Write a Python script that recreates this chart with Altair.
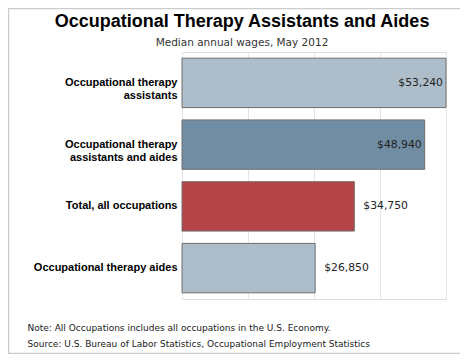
import altair as alt
import pandas as pd

occupations = [
    "Occupational therapy\nassistants",
    "Occupational therapy\nassistants and aides",
    "Total, all occupations",
    "Occupational therapy aides",
]
wages = [53240, 48940, 34750, 26850]
wage_labels = ["$53,240", "$48,940", "$34,750", "$26,850"]
axis_ticks = [0, 13310, 26620, 39930, 53240]

title_text = "Occupational Therapy Assistants and Aides"
subtitle_text = "Median annual wages, May 2012"
footnotes = [
    "Note: All Occupations includes all occupations in the U.S. Economy.",
    "Source: U.S. Bureau of Labor Statistics, Occupational Employment Statistics",
]

bar_colors = ["#adbdc9", "#718da3", "#b54446", "#adbdc9"]

df = pd.DataFrame({"occupation": occupations, "wage": wages, "label": wage_labels})

y_enc = alt.Y(
    "occupation:N",
    sort=occupations,
    scale=alt.Scale(paddingInner=0.2, paddingOuter=0.1),
    axis=alt.Axis(
        title=None,
        ticks=False,
        domain=False,
        labelPadding=5,
        labelFont="Liberation Sans",
        labelFontSize=11,
        labelFontWeight="bold",
        labelColor="#000000",
        labelLineHeight=13.5,
        labelExpr="split(datum.label, '\\n')",
        labelLimit=200,
    ),
)

x_enc = alt.X(
    "wage:Q",
    scale=alt.Scale(domain=[0, 53240], nice=False, zero=True),
    axis=alt.Axis(
        values=axis_ticks,
        labels=False,
        ticks=False,
        domain=False,
        grid=True,
        gridColor="#e4e4e4",
        title=footnotes,
        titleAnchor="start",
        titleAlign="left",
        titleBaseline="alphabetic",
        titleX=-155,
        titleY=31,
        titleFont="DejaVu Sans",
        titleFontSize=9,
        titleFontWeight="normal",
        titleColor="#1a1a1a",
        titleLineHeight=16,
    ),
)

base = alt.Chart(df)

bars = base.mark_bar(stroke="#6e6e6e", strokeWidth=1).encode(
    x=x_enc,
    y=y_enc,
    color=alt.Color(
        "occupation:N",
        scale=alt.Scale(domain=occupations, range=bar_colors),
        legend=None,
    ),
)

inside = base.transform_filter("datum.wage > 40000").mark_text(
    align="right", dx=-3, font="DejaVu Sans", fontSize=10.8, color="#222222"
).encode(x="wage:Q", y=alt.Y("occupation:N", sort=occupations), text="label:N")

outside = base.transform_filter("datum.wage <= 40000").mark_text(
    align="left", dx=9, font="DejaVu Sans", fontSize=10.8, color="#222222"
).encode(x="wage:Q", y=alt.Y("occupation:N", sort=occupations), text="label:N")

frame = alt.Chart(alt.Data(values=[{}])).mark_rect(
    fill="transparent", stroke="#cccccc", strokeWidth=1.5
).encode(
    x=alt.value(-173.5), x2=alt.value(280), y=alt.value(-43.5), y2=alt.value(301.5)
)

title_layer = alt.Chart(alt.Data(values=[{"t": title_text}])).mark_text(
    font="Liberation Sans", fontSize=18, fontWeight="bold", color="#000000",
    align="center", baseline="alphabetic"
).encode(text="t:N", x=alt.value(60), y=alt.value(-25))

subtitle_layer = alt.Chart(alt.Data(values=[{"t": subtitle_text}])).mark_text(
    font="DejaVu Sans", fontSize=10.5, color="#333333",
    align="center", baseline="alphabetic"
).encode(text="t:N", x=alt.value(60), y=alt.value(-6))

chart = (
    alt.layer(frame, bars, inside, outside, title_layer, subtitle_layer)
    .properties(
        width=264,
        height=247,
        autosize=alt.AutoSizeParams(type="none"),
        padding={"left": 174, "top": 44, "right": 14, "bottom": 55},
    )
    .configure_view(stroke="#dddddd", strokeWidth=1)
    .configure(background="white")
)

chart.save("out.html", embed_options={"renderer": "svg", "actions": False})
